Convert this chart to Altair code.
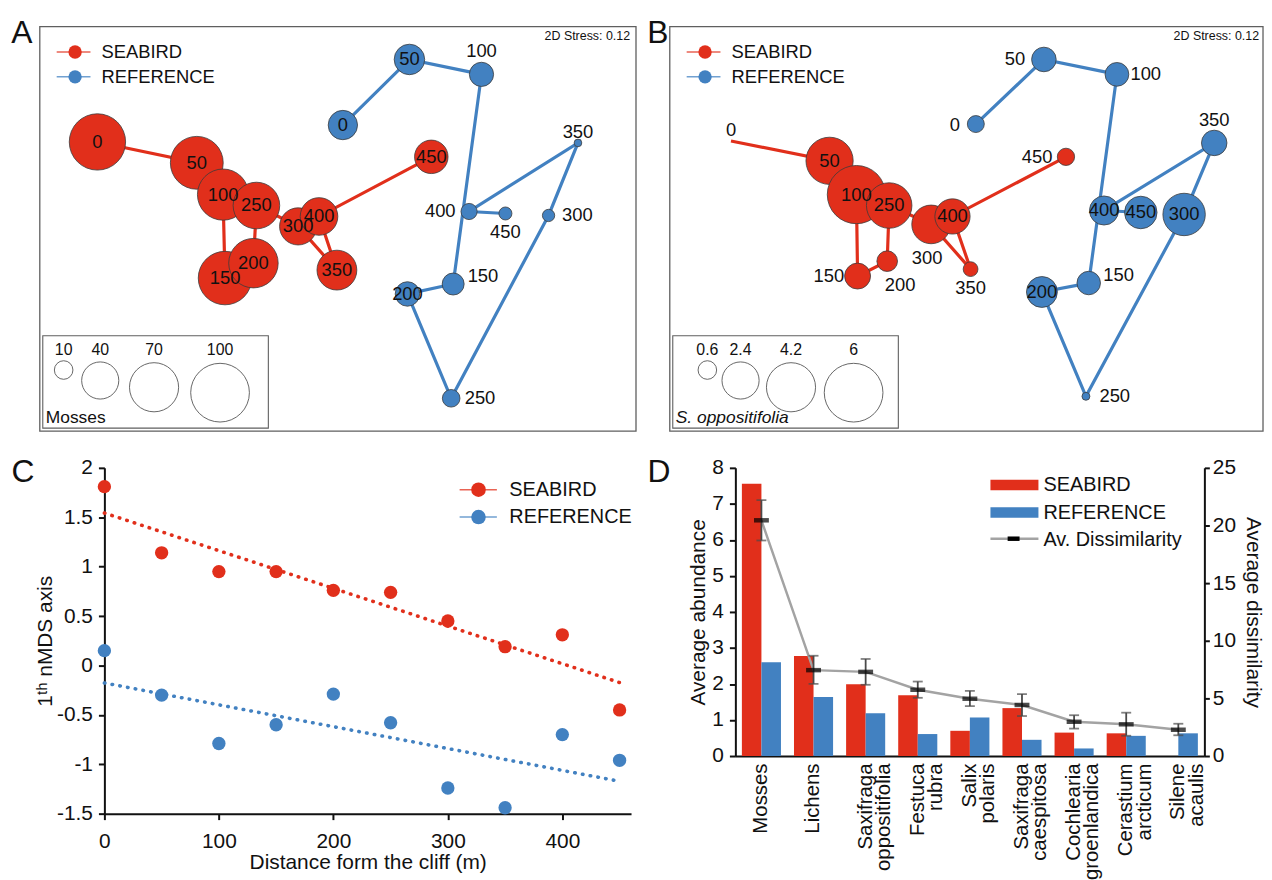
import math
import altair as alt
import pandas as pd

FONT = "Liberation Sans"
RED = "#E12F1B"
BLUE = "#4281C1"
INK = "#111111"

SERIES = ["SEABIRD", "REFERENCE"]
DIST = [0, 50, 100, 150, 200, 250, 300, 350, 400, 450]
DIST_LABELS = [str(d) for d in DIST]

# ---------------- Panel A (Mosses) nMDS coordinates and abundances ----------------
A_SEA_X = [-1.21, -0.71, -0.578, -0.568, -0.425, -0.41, -0.20, -0.005, -0.095, 0.47]
A_SEA_Y = [0.435, 0.33, 0.17, -0.25, -0.175, 0.115, 0.01, -0.21, 0.06, 0.36]
A_SEA_V = [92, 81, 76, 83, 71, 63, 40, 46, 41, 32.5]
A_REF_X = [0.025, 0.36, 0.7225, 0.58, 0.35, 0.57, 1.06, 1.208, 0.66, 0.843]
A_REF_Y = [0.52, 0.85, 0.775, -0.28, -0.33, -0.855, 0.065, 0.43, 0.085, 0.075]
A_REF_V = [25, 27, 17, 14, 17.4, 9, 4.4, 1.7, 7.6, 4.9]
A_LEG_VALS = [10, 40, 70, 100]
A_LEG_LABELS = ["10", "40", "70", "100"]

# ---------------- Panel B (S. oppositifolia) ----------------
B_SEA_X = [-1.192, -0.696, -0.561, -0.555, -0.406, -0.396, -0.185, 0.0135, -0.0775, 0.4935]
B_SEA_Y = [0.44, 0.34, 0.17, -0.24, -0.165, 0.115, 0.02, -0.205, 0.06, 0.36]
B_SEA_V = [0, 3.88, 5.9, 1.17, 0.74, 3.6, 2.6, 0.38, 2.16, 0.52]
B_REF_X = [0.04, 0.3825, 0.75, 0.608, 0.3725, 0.594, 1.088, 1.2395, 0.685, 0.87]
B_REF_Y = [0.525, 0.85, 0.775, -0.275, -0.32, -0.845, 0.07, 0.43, 0.09, 0.08]
B_REF_V = [0.5, 1.05, 0.98, 0.96, 1.66, 0.11, 3.13, 1.13, 1.47, 1.84]
B_LEG_VALS = [0.6, 2.4, 4.2, 6]
B_LEG_LABELS = ["0.6", "2.4", "4.2", "6"]

# label placement codes (style)
A_SEA_POS = ["c"] * 10
A_REF_POS = ["c", "c", "t", "tr", "c", "r", "r", "ts", "l", "b"]
B_SEA_POS = ["ts", "c", "c", "l", "br", "c", "bb", "b", "c", "l"]
B_REF_POS = ["ls", "l", "r", "tr", "c", "r", "c", "t", "c", "c"]
LABEL_OFFSETS = {"c": (0, 0), "t": (0, -23), "ts": (0, -11), "b": (0, 19), "bb": (-4, 34),
                 "l": (-29, 0), "ls": (-21, 1), "r": (29, 0), "tr": (30, -8), "br": (13, 24)}

# ---------------- Panel C ----------------
C_SEA = [1.81, 1.14, 0.95, 0.95, 0.76, 0.74, 0.45, 0.19, 0.31, -0.45]
C_REF = [0.15, -0.30, -0.79, -0.60, -0.29, -0.58, -1.24, -1.44, -0.70, -0.96]

# ---------------- Panel D ----------------
CATS = ["Mosses", "Lichens", "Saxifraga oppositifolia", "Festuca rubra", "Salix polaris",
        "Saxifraga caespitosa", "Cochlearia groenlandica", "Cerastium arcticum", "Silene acaulis"]
D_SEA = [7.56, 2.78, 1.99, 1.69, 0.70, 1.33, 0.65, 0.63, 0.0]
D_REF = [2.60, 1.64, 1.19, 0.61, 1.07, 0.45, 0.21, 0.56, 0.63]
D_DIS = [20.45, 7.45, 7.3, 5.75, 4.97, 4.43, 2.97, 2.75, 2.28]
D_LO = [18.7, 6.26, 6.18, 5.05, 4.33, 3.47, 2.38, 1.76, 1.8]
D_HI = [22.2, 8.7, 8.42, 6.46, 5.65, 5.37, 3.54, 3.76, 2.8]

ONE = pd.DataFrame({"k": [0]})
color_scale = alt.Scale(domain=SERIES, range=[RED, BLUE])
AREA_MAX = 3490
AXIS_FONT = 21


def vtext(text, x, y, size=18, align="left", style="normal"):
    return alt.Chart(ONE).mark_text(text=text, font=FONT, fontSize=size, align=align,
                                    baseline="middle", color=INK, fontStyle=style).encode(
        x=alt.value(x), y=alt.value(y))


def anchor(x, y):
    # invisible 1px rectangle that pins the layout bounds
    return alt.Chart(ONE).mark_rect(opacity=0).encode(
        x=alt.value(x), x2=alt.value(x + 1), y=alt.value(y), y2=alt.value(y + 1))


def nmds_panel(letter, letter_x, sx, sy, sv, spos, rx, ry, rv, rpos, vmax, leg_vals, leg_labels,
               leg_title, leg_italic, width, x_zero, frame_left, frame_right, leg_first, leg_gap, stress_x):
    H = 428
    Y_ZERO = 219
    K = 200.0
    xs = alt.Scale(domain=[-x_zero / K, (width - x_zero) / K], nice=False, zero=False)
    ys = alt.Scale(domain=[(Y_ZERO - H) / K, Y_ZERO / K], nice=False, zero=False)
    sz = alt.Scale(domain=[0, vmax], range=[0, AREA_MAX])
    df = pd.DataFrame({
        "series": ["SEABIRD"] * 10 + ["REFERENCE"] * 10,
        "dist": DIST * 2, "lab": DIST_LABELS * 2,
        "x": sx + rx, "y": sy + ry, "v": sv + rv, "pos": spos + rpos})
    X = alt.X("x:Q", scale=xs, axis=None)
    Y = alt.Y("y:Q", scale=ys, axis=None)
    layers = [anchor(0, 0), anchor(0, 428)]
    layers.append(alt.Chart(ONE).mark_rect(fillOpacity=0, stroke="#5f5f5f", strokeWidth=1.3).encode(
        x=alt.value(frame_left), x2=alt.value(frame_right), y=alt.value(16), y2=alt.value(423)))
    layers.append(alt.Chart(df).mark_line(strokeWidth=3.2).encode(
        X, Y, color=alt.Color("series:N", scale=color_scale, legend=None), order="dist:Q"))
    layers.append(alt.Chart(df).transform_filter("datum.v > 0").mark_circle(
        opacity=1, stroke="#3b3b3b", strokeWidth=0.8).encode(
        X, Y, fill=alt.Fill("series:N", scale=color_scale, legend=None),
        size=alt.Size("v:Q", scale=sz, legend=None)))
    for code, (dx, dy) in LABEL_OFFSETS.items():
        layers.append(alt.Chart(df).transform_filter(alt.datum.pos == code).mark_text(
            font=FONT, fontSize=18.5, color=INK, dx=dx, dy=dy).encode(X, Y, text="lab:N"))
    # series legend
    for s, yy, col in [("SEABIRD", 41.5, RED), ("REFERENCE", 66.5, BLUE)]:
        layers.append(alt.Chart(ONE).mark_rule(color=col, strokeWidth=1.5, opacity=0.75).encode(
            x=alt.value(frame_left + 17), x2=alt.value(frame_left + 51), y=alt.value(yy)))
        layers.append(alt.Chart(ONE).mark_circle(color=col, size=180, opacity=1).encode(
            x=alt.value(frame_left + 35.5), y=alt.value(yy)))
        layers.append(vtext(s, frame_left + 62, yy, 18.5))
    # size legend
    layers.append(alt.Chart(ONE).mark_rect(fillOpacity=0, stroke="#5f5f5f", strokeWidth=1.1).encode(
        x=alt.value(frame_left + 3), x2=alt.value(frame_left + 230), y=alt.value(327), y2=alt.value(420)))
    radii = [math.sqrt(AREA_MAX * v / vmax / math.pi) for v in leg_vals]
    cx = [frame_left + leg_first]
    for i in range(1, len(radii)):
        cx.append(cx[-1] + radii[i - 1] + radii[i] + leg_gap)
    top = 351
    ldf = pd.DataFrame({"v": leg_vals, "lab": leg_labels,
                        "x": [(c - x_zero) / K for c in cx],
                        "y": [(Y_ZERO - (top + r)) / K for r in radii]})
    layers.append(alt.Chart(ldf).mark_circle(opacity=1, fillOpacity=0, stroke="#555555", strokeWidth=0.9).encode(
        X, Y, size=alt.Size("v:Q", scale=sz, legend=None)))
    layers.append(alt.Chart(ldf).mark_text(font=FONT, fontSize=16, color=INK, baseline="middle").encode(
        X, y=alt.value(341), text="lab:N"))
    layers.append(vtext(leg_title, frame_left + 6, 410, 17.5, style="italic" if leg_italic else "normal"))
    layers.append(vtext("2D Stress: 0.12", stress_x, 25, 12.5))
    layers.append(vtext(letter, letter_x, 22, 32, align="center"))
    return alt.layer(*layers).properties(width=width, height=H)


panel_a = nmds_panel("A", 14, A_SEA_X, A_SEA_Y, A_SEA_V, A_SEA_POS, A_REF_X, A_REF_Y, A_REF_V, A_REF_POS,
                     100, A_LEG_VALS, A_LEG_LABELS, "Mosses", False,
                     width=649, x_zero=332, frame_left=32, frame_right=632, leg_first=24, leg_gap=5.2,
                     stress_x=540)
panel_b = nmds_panel("B", 5, B_SEA_X, B_SEA_Y, B_SEA_V, B_SEA_POS, B_REF_X, B_REF_Y, B_REF_V, B_REF_POS,
                     6, B_LEG_VALS, B_LEG_LABELS, "S. oppositifolia", True,
                     width=607, x_zero=317, frame_left=17, frame_right=614, leg_first=37.8, leg_gap=1.8,
                     stress_x=524)

# ---------------- Panel C ----------------
cdf = pd.DataFrame({"dist": DIST * 2, "val": C_SEA + C_REF,
                    "series": ["SEABIRD"] * 10 + ["REFERENCE"] * 10})
CX = alt.X("dist:Q", scale=alt.Scale(domain=[0, 460], nice=False, zero=False),
           axis=alt.Axis(values=[0, 100, 200, 300, 400], title="Distance form the cliff (m)",
                         labelFlush=False, labelPadding=11, titlePadding=0))
CY = alt.Y("val:Q", scale=alt.Scale(domain=[-1.5, 2], nice=False, zero=False),
           axis=alt.Axis(values=[-1.5, -1, -0.5, 0, 0.5, 1, 1.5, 2], title="1ᵗʰ nMDS axis",
                         labelExpr="'' + datum.value", labelFlush=False, labelPadding=6, titlePadding=1))
c_reg = alt.Chart(cdf).transform_regression("dist", "val", groupby=["series"]).mark_line(
    strokeWidth=3.6, strokeDash=[0.5, 7.4], strokeCap="round").encode(
    x="dist:Q", y="val:Q", color=alt.Color("series:N", scale=color_scale, legend=None))
c_pts = alt.Chart(cdf).mark_circle(size=180, opacity=1).encode(
    CX, CY, color=alt.Color("series:N", scale=color_scale, legend=None))
c_layers = [anchor(-97, -31), c_reg, c_pts]
for s, yy, col in [("SEABIRD", 22, RED), ("REFERENCE", 49.5, BLUE)]:
    c_layers.append(alt.Chart(ONE).mark_rule(color=col, strokeWidth=1.5, opacity=0.75).encode(
        x=alt.value(357.5), x2=alt.value(395), y=alt.value(yy)))
    c_layers.append(alt.Chart(ONE).mark_circle(color=col, size=215, opacity=1).encode(
        x=alt.value(376.5), y=alt.value(yy)))
    c_layers.append(vtext(s, 407.5, yy, 20))
c_layers.append(vtext("C", -82, 4, 32, align="center"))
panel_c = alt.layer(*c_layers).properties(width=530, height=348)

# ---------------- Panel D ----------------
ddf = pd.DataFrame({"cat": CATS * 2, "val": D_SEA + D_REF,
                    "series": ["SEABIRD"] * len(CATS) + ["REFERENCE"] * len(CATS)})
dis_df = pd.DataFrame({"cat": CATS, "dis": D_DIS, "lo": D_LO, "hi": D_HI})
DXB = alt.X("cat:N", sort=CATS, scale=alt.Scale(paddingInner=0.25, paddingOuter=0.125),
            axis=alt.Axis(title=None, labelAngle=270, labelExpr="split(datum.label, ' ')", ticks=False,
                          labelPadding=7, labelLineHeight=18.5, labelFontSize=20.5, labelLimit=400,
                          labelAlign="right", labelBaseline="middle"))
DX = alt.X("cat:N", sort=CATS)
right_scale = alt.Scale(domain=[0, 25], nice=False)
right_axis = alt.Axis(orient="right", values=[0, 5, 10, 15, 20, 25], title="Average dissimilarity",
                      tickSize=5, labelPadding=3, titlePadding=7, labelFlush=False)
bars = alt.Chart(ddf).mark_bar().encode(
    DXB,
    xOffset=alt.XOffset("series:N", sort=SERIES, scale=alt.Scale(paddingInner=0, paddingOuter=0)),
    y=alt.Y("val:Q", scale=alt.Scale(domain=[0, 8], nice=False),
            axis=alt.Axis(values=list(range(9)), title="Average abundance", orient="left",
                          labelFlush=False, labelPadding=6, titlePadding=3)),
    color=alt.Color("series:N", scale=color_scale, legend=None))
d_line = alt.Chart(dis_df).mark_line(color="#A3A3A3", strokeWidth=2.5).encode(
    DX, y=alt.Y("dis:Q", scale=right_scale, axis=right_axis))
d_err = alt.Chart(dis_df).mark_rule(color="#4a4a4a", strokeWidth=1.8).encode(
    DX, y=alt.Y("lo:Q", scale=right_scale, axis=right_axis), y2="hi:Q")
d_cap_lo = alt.Chart(dis_df).mark_tick(color="#4a4a4a", size=10, thickness=1.8).encode(
    DX, y=alt.Y("lo:Q", scale=right_scale, axis=right_axis))
d_cap_hi = alt.Chart(dis_df).mark_tick(color="#4a4a4a", size=10, thickness=1.8).encode(
    DX, y=alt.Y("hi:Q", scale=right_scale, axis=right_axis))
d_mark = alt.Chart(dis_df).mark_tick(color="#000000", size=15, thickness=4.5).encode(
    DX, y=alt.Y("dis:Q", scale=right_scale, axis=right_axis))
d_right = alt.layer(d_line, d_err, d_cap_lo, d_cap_hi, d_mark)

d_deco = []
for s, y0, col in [("SEABIRD", 12, RED), ("REFERENCE", 39.7, BLUE)]:
    d_deco.append(alt.Chart(ONE).mark_rect(color=col).encode(
        x=alt.value(256.7), x2=alt.value(305), y=alt.value(y0), y2=alt.value(y0 + 10.6)))
    d_deco.append(vtext(s, 310, y0 + 5.3, 20))
d_deco.append(alt.Chart(ONE).mark_rule(color="#A3A3A3", strokeWidth=2.5).encode(
    x=alt.value(256.7), x2=alt.value(305), y=alt.value(71.3)))
d_deco.append(alt.Chart(ONE).mark_rule(color="#000000", strokeWidth=4.5).encode(
    x=alt.value(274), x2=alt.value(286), y=alt.value(71.3)))
d_deco.append(vtext("Av. Dissimilarity", 310, 73, 20))
d_deco.append(vtext("D", -77, 4, 32, align="center"))

panel_d = alt.layer(bars, d_right, *d_deco).resolve_scale(y="independent").properties(width=472, height=290)


def spacer(w):
    return alt.Chart(ONE).mark_rect(opacity=0).encode(
        x=alt.value(0), x2=alt.value(1), y=alt.value(0), y2=alt.value(1)).properties(width=w, height=10)


top = alt.hconcat(panel_a, panel_b, spacing=0, bounds="flush").resolve_scale(size="independent")
bottom = alt.hconcat(spacer(87), panel_c, spacer(85), panel_d, spacing=10, bounds="flush")

chart = alt.vconcat(top, bottom, spacing=0).resolve_scale(size="independent").properties(
    padding=0
).configure(font=FONT).configure_view(stroke=None).configure_axis(
    labelFont=FONT, titleFont=FONT, labelFontSize=AXIS_FONT, titleFontSize=AXIS_FONT, titleFontWeight="normal",
    labelColor=INK, titleColor=INK, domainColor=INK, domainWidth=2, tickColor=INK, tickWidth=2,
    tickSize=6, grid=False
)

chart.save("out.html", embed_options={"renderer": "svg", "actions": False})
